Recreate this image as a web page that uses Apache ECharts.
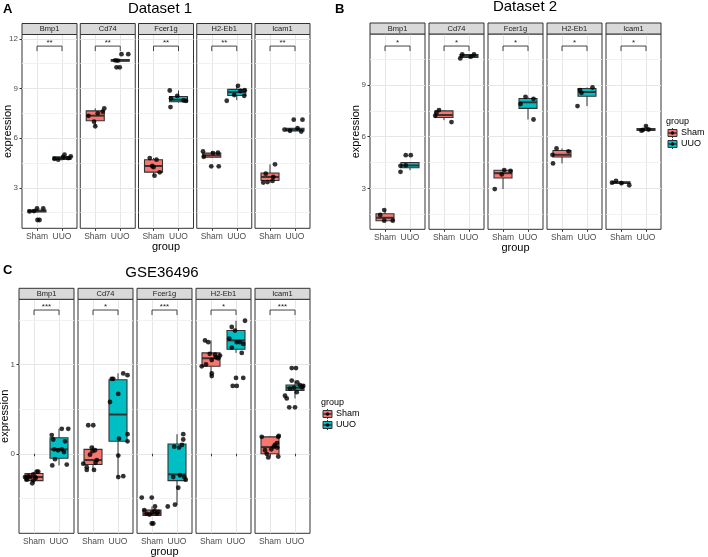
<!DOCTYPE html>
<html><head><meta charset="utf-8">
<script src="https://cdn.jsdelivr.net/npm/echarts@6/dist/echarts.min.js"></script>
<style>html,body{margin:0;padding:0;background:#fff}#c{width:708px;height:557px}</style>
</head><body><div id="c"></div>
<script>
const genes = ['Bmp1','Cd74','Fcer1g','H2-Eb1','Icam1'];
const groups = ['Sham','UUO'];

// ---------- Dataset 1 ----------
const d1Sham = [[1.58,1.60,1.76,1.76,1.06,1.06],[7.35,7.0,6.72,7.6,7.8,7.5],[4.8,4.32,3.74,4.7,3.94,4.25],[5.2,4.88,5.1,5.12,4.3,4.3],[3.32,3.86,3.66,4.42,3.42,3.35]];
const d1ShamJit = [[-0.3,-0.12,0.0,0.25,0.02,0.1],[-0.27,-0.05,0.0,0.3,0.36,0.1],[-0.15,-0.05,0.04,0.12,0.25,0.0],[-0.35,-0.32,0.05,0.25,-0.02,0.28],[-0.27,-0.17,0.13,0.2,0.1,-0.1]];
const d1ShamBox = [[1.52,1.55,1.6,1.66,1.76],[6.72,7.05,7.36,7.65,7.8],[3.74,3.95,4.32,4.7,4.8],[4.8,4.85,4.96,5.1,5.22],[3.32,3.45,3.66,3.9,4.42]];
const d1Uuo = [[4.75,4.7,4.85,5.0,4.8,4.9],[10.7,10.68,11.07,11.07,10.28,10.28],[8.88,8.4,7.88,8.55,8.28,8.25],[8.26,9.16,8.56,8.9,8.85,8.6],[6.52,7.12,7.12,6.6,6.4,6.45]];
const d1UuoJit = [[-0.3,-0.15,0.05,0.1,0.25,0.35],[-0.2,-0.1,0.05,0.32,-0.15,-0.02],[-0.35,-0.3,-0.32,-0.05,0.2,0.3],[-0.4,0.05,0.3,0.32,0.15,-0.1],[-0.42,-0.05,0.3,0.1,0.25,-0.2]];
const d1UuoBox = [[4.65,4.72,4.8,4.88,5.0],[10.62,10.65,10.7,10.75,10.78],[8.15,8.2,8.32,8.52,8.88],[8.3,8.58,8.78,8.95,9.16],[6.4,6.44,6.52,6.6,6.62]];
const d1BracketY = [11.56,11.56,11.56,11.56,11.56];
const d1Sig = ['**','**','**','**','**'];
const d1YTicks = [3,6,9,12];
const d1YMinor = [1.5,4.5,7.5,10.5];

// ---------- Dataset 2 ----------
const d2Sham = [[1.45,1.74,1.12,1.12],[7.22,7.55,7.4,6.85],[2.96,3.81,4.06,4.02],[4.95,4.45,5.32,5.15],[3.44,3.33,3.3,3.18]];
const d2ShamJit = [[-0.19,-0.03,-0.03,0.31],[-0.35,-0.2,-0.3,0.3],[-0.33,-0.05,0.05,0.3],[-0.38,-0.36,-0.22,0.26],[-0.2,-0.36,0.02,0.33]];
const d2ShamBox = [[1.12,1.12,1.29,1.52,1.74],[6.96,7.12,7.26,7.5,7.55],[2.96,3.6,3.88,4.05,4.08],[4.45,4.82,4.95,5.2,5.32],[3.18,3.28,3.32,3.38,3.44]];
const d2Uuo = [[3.96,4.31,4.33,4.93,4.93],[10.55,10.78,10.65,10.78],[7.9,8.32,8.2,7.0],[7.78,8.71,8.55,8.86],[6.35,6.62,6.4,6.42]];
const d2UuoJit = [[-0.38,-0.38,-0.17,-0.17,0.03],[-0.35,-0.27,0.07,0.2],[-0.3,-0.1,0.22,0.22],[-0.38,-0.28,-0.22,0.22],[-0.18,0.0,-0.12,0.1]];
const d2UuoBox = [[4.05,4.2,4.33,4.5,4.5],[10.55,10.6,10.7,10.78,10.8],[7.0,7.65,8.0,8.22,8.32],[7.78,8.35,8.6,8.8,8.86],[6.33,6.36,6.4,6.47,6.62]];
const d2BracketY = [11.27,11.27,11.27,11.27,11.27];
const d2Sig = ['*','*','*','*','*'];
const d2YTicks = [3,6,9];
const d2YMinor = [1.5,4.5,7.5,10.5];

// ---------- GSE36496 ----------
const d3Sham = [
  [-0.26,-0.27,-0.25,-0.26,-0.23,-0.26,-0.2,-0.2,-0.33,-0.3,-0.29,-0.27],
  [-0.11,-0.15,0.32,0.32,-0.01,0.07,0.04,-0.18,-0.07,-0.18,-0.1,0.03],
  [-0.49,-0.49,-0.63,-0.59,-0.78,-0.78,-0.67,-0.67,-0.65,-0.66,-0.68,-0.64],
  [0.98,1.27,1.25,0.9,0.87,1.11,1.07,1.1,1.05,1.12,1.0,1.08],
  [0.19,-0.04,-0.03,0.04,0.07,0.19,0.0,0.1,0.08,0.2,0.12,0.05]];
const d3ShamJit = [
  [-0.36,-0.29,-0.23,-0.16,-0.03,0.04,0.11,0.17,-0.07,-0.03,-0.29,0.07],
  [-0.39,-0.25,-0.19,0.01,-0.12,-0.05,0.08,0.04,0.15,-0.25,0.1,-0.02],
  [-0.41,-0.01,-0.31,0.12,-0.01,0.05,-0.21,0.19,0.25,0.0,-0.1,0.1],
  [-0.37,-0.24,-0.11,0.03,0.03,0.16,0.29,0.36,0.03,-0.05,-0.2,0.2],
  [-0.33,-0.07,0.33,-0.2,0.29,0.33,-0.13,0.2,0.15,0.35,0.28,0.05]];
const d3ShamBox = [[-0.33,-0.3,-0.26,-0.22,-0.2],[-0.18,-0.12,-0.07,0.05,0.09],[-0.69,-0.69,-0.67,-0.63,-0.59],[0.87,0.98,1.07,1.13,1.27],[-0.04,0.0,0.075,0.19,0.2]];
const d3Uuo = [
  [0.21,0.16,-0.13,-0.06,0.05,0.28,0.14,-0.12,0.28,0.02,0.05,0.04],
  [0.58,0.84,0.84,0.67,-0.02,-0.26,-0.25,0.9,0.88,0.22,0.14,0.17],
  [-0.59,-0.57,-0.38,-0.26,0.08,0.07,0.16,0.22,-0.26,-0.29,-0.24,0.1],
  [1.42,1.38,1.49,1.29,1.19,1.25,1.25,1.23,1.13,0.85,0.85,0.76,0.76],
  [0.96,0.96,0.82,0.65,0.62,0.52,0.52,0.8,0.77,0.745,0.69,0.74,0.76,0.73]];
const d3UuoJit = [
  [-0.29,-0.23,-0.27,-0.16,0.11,0.11,0.24,0.31,0.37,0.2,-0.19,-0.04],
  [-0.32,-0.25,-0.19,0.01,0.01,0.01,0.21,0.21,0.38,0.38,0.38,0.04],
  [-0.37,-0.08,0.05,-0.15,-0.11,0.08,0.25,0.25,0.29,0.35,0.12,0.2],
  [-0.17,-0.04,0.36,-0.27,-0.17,0.03,0.16,0.29,0.23,0.0,0.29,-0.13,0.03],
  [-0.13,0.04,-0.13,-0.4,-0.33,-0.23,0.0,0.09,0.2,0.27,0.07,-0.04,0.33,-0.2]];
const d3UuoBox = [[-0.13,-0.05,0.05,0.18,0.28],[-0.26,0.14,0.44,0.83,0.9],[-0.57,-0.3,-0.23,0.11,0.22],[1.13,1.17,1.27,1.38,1.49],[0.62,0.71,0.74,0.77,0.82]];
const d3BracketY = [1.61,1.61,1.61,1.61,1.61];
const d3Sig = ['***','*','***','*','***'];
const d3YTicks = [0,1];
const d3YMinor = [-0.5,0.5,1.5];

// ---------- rendering ----------
const FONT = '"Liberation Sans", Arial, sans-serif';
const COL = {Sham:'#F8766D', UUO:'#00BFC4'};
const DARK = '#333333';

const panels = [
  {title:'Dataset 1', letter:'A', lx:3, ly:3, tx:160, ty:9, left0:22, step:58.25, w:55, top:34.5, h:193.8, ymin:0.56, ymax:12.26,
   sham:d1Sham, shamJit:d1ShamJit, shamBox:d1ShamBox, uuo:d1Uuo, uuoJit:d1UuoJit, uuoBox:d1UuoBox, bracket:d1BracketY, sig:d1Sig, ticks:d1YTicks, minor:d1YMinor, legend:null},
  {title:'Dataset 2', letter:'B', lx:335, ly:3, tx:525, ty:7, left0:370, step:59, w:55, top:34, h:195.3, ymin:0.62, ymax:11.97,
   sham:d2Sham, shamJit:d2ShamJit, shamBox:d2ShamBox, uuo:d2Uuo, uuoJit:d2UuoJit, uuoBox:d2UuoBox, bracket:d2BracketY, sig:d2Sig, ticks:d2YTicks, minor:d2YMinor, legend:{x:666, y:122}},
  {title:'GSE36496', letter:'C', lx:3, ly:264, tx:162, ty:273, left0:19, step:59, w:55, top:299.3, h:234, ymin:-0.89, ymax:1.73,
   sham:d3Sham, shamJit:d3ShamJit, shamBox:d3ShamBox, uuo:d3Uuo, uuoJit:d3UuoJit, uuoBox:d3UuoBox, bracket:d3BracketY, sig:d3Sig, ticks:d3YTicks, minor:d3YMinor, legend:{x:321, y:403}}
];

const grid = [], xAxis = [], yAxis = [], series = [], graphic = [];

function renderBox(params, api) {
  const x = api.value(0);
  const hw = 0.36;
  const pMin = api.coord([x, api.value(1)]);
  const pQ1 = api.coord([x, api.value(2)]);
  const pMd = api.coord([x, api.value(3)]);
  const pQ3 = api.coord([x, api.value(4)]);
  const pMx = api.coord([x, api.value(5)]);
  const l = api.coord([x - hw, api.value(3)])[0];
  const r = api.coord([x + hw, api.value(3)])[0];
  const fill = api.visual('color');
  return {type:'group', children:[
    {type:'line', shape:{x1:pMx[0], y1:pMx[1], x2:pQ3[0], y2:pQ3[1]}, style:{stroke:DARK, lineWidth:1}},
    {type:'line', shape:{x1:pMin[0], y1:pMin[1], x2:pQ1[0], y2:pQ1[1]}, style:{stroke:DARK, lineWidth:1}},
    {type:'rect', shape:{x:l, y:pQ3[1], width:r - l, height:Math.max(pQ1[1] - pQ3[1], 1)}, style:{fill:fill, stroke:DARK, lineWidth:1.1}},
    {type:'line', shape:{x1:l, y1:pMd[1], x2:r, y2:pMd[1]}, style:{stroke:DARK, lineWidth:2}}
  ]};
}

function makeBracketRenderer(label) {
  return function (params, api) {
    const y = api.value(1);
    const a = api.coord([1, y]);
    const b = api.coord([2, y]);
    const m = api.coord([1.5, y]);
    return {type:'group', children:[
      {type:'polyline', shape:{points:[[a[0], a[1] + 5], a, b, [b[0], b[1] + 5]]}, style:{stroke:'#444', lineWidth:1, fill:null}},
      {type:'text', style:{text:label, x:m[0], y:m[1] + 1, align:'center', verticalAlign:'bottom', fontSize:8, fontFamily:FONT, fill:'#222'}}
    ]};
  };
}

panels.forEach((p, pi) => {
  genes.forEach((g, gi) => {
    const idx = grid.length;
    const left = p.left0 + gi * p.step;
    grid.push({left:left, top:p.top, width:p.w, height:p.h, show:true, borderColor:DARK, borderWidth:1, backgroundColor:'#fff', containLabel:false});
    xAxis.push({type:'value', gridIndex:idx, min:0.4, max:2.6,
      axisLine:{show:false},
      axisTick:{show:true, length:2.5, customValues:[1,2], lineStyle:{color:DARK, width:1}},
      axisLabel:{show:true, customValues:[1,2], formatter:v => groups[Math.round(v) - 1], color:'#4D4D4D', fontSize:8.5, fontFamily:FONT, margin:3.5},
      splitLine:{show:true, lineStyle:{color:'#E6E6E6', width:1}}
    });
    yAxis.push({type:'value', gridIndex:idx, min:p.ymin, max:p.ymax,
      axisLine:{show:false},
      axisTick:{show:gi === 0, length:2.5, customValues:p.ticks, lineStyle:{color:DARK, width:1}},
      axisLabel:{show:gi === 0, customValues:p.ticks, color:'#4D4D4D', fontSize:8, fontFamily:FONT, margin:4},
      splitLine:{show:true, lineStyle:{color:'#E6E6E6', width:1}}
    });
    // minor grid + boxes
    series.push({type:'custom', xAxisIndex:idx, yAxisIndex:idx, silent:true, z:2,
      renderItem:renderBox, itemStyle:{color:COL.Sham}, encode:{x:0, y:[1,2,3,4,5]},
      data:[[1].concat(p.shamBox[gi])],
      markLine:{silent:true, symbol:'none', label:{show:false}, animation:false, z:1,
        lineStyle:{color:'#EFEFEF', width:0.8, type:'solid'},
        data:p.minor.map(v => ({yAxis:v}))}
    });
    series.push({type:'custom', xAxisIndex:idx, yAxisIndex:idx, silent:true, z:2,
      renderItem:renderBox, itemStyle:{color:COL.UUO}, encode:{x:0, y:[1,2,3,4,5]},
      data:[[2].concat(p.uuoBox[gi])]
    });
    series.push({type:'scatter', xAxisIndex:idx, yAxisIndex:idx, silent:true, z:3, symbolSize:4.8,
      itemStyle:{color:'#000'},
      data:p.sham[gi].map((v, i) => [1 + p.shamJit[gi][i], v]).concat(p.uuo[gi].map((v, i) => [2 + p.uuoJit[gi][i], v]))
    });
    series.push({type:'custom', xAxisIndex:idx, yAxisIndex:idx, silent:true, z:3,
      renderItem:makeBracketRenderer(p.sig[gi]), encode:{x:0, y:1},
      data:[[1.5, p.bracket[gi]]]
    });
    // strip
    graphic.push({type:'rect', shape:{x:left, y:p.top - 11, width:p.w, height:11}, style:{fill:'#D9D9D9', stroke:DARK, lineWidth:1}, z:10});
    graphic.push({type:'text', x:left + p.w / 2, y:p.top - 5.5, style:{text:g, align:'center', verticalAlign:'middle', fontSize:7.5, fontFamily:FONT, fill:'#1A1A1A'}, z:11});
  });
  const pLeft = p.left0, pRight = p.left0 + 4 * p.step + p.w;
  graphic.push({type:'text', x:p.lx, y:p.ly, style:{text:p.letter, fontSize:13, fontWeight:'bold', fontFamily:FONT, fill:'#000'}, z:11});
  graphic.push({type:'text', x:p.tx, y:p.ty, style:{text:p.title, align:'center', verticalAlign:'middle', fontSize:15, fontFamily:FONT, fill:'#000'}, z:11});
  graphic.push({type:'text', x:(pLeft + pRight) / 2, y:p.top + p.h + 18.5, style:{text:'group', align:'center', verticalAlign:'middle', fontSize:11, fontFamily:FONT, fill:'#000'}, z:11});
  graphic.push({type:'text', x:pLeft - 14, y:p.top + p.h / 2, rotation:Math.PI / 2, style:{text:'expression', align:'center', verticalAlign:'middle', fontSize:11, fontFamily:FONT, fill:'#000'}, z:11});
  if (p.legend) {
    const L = p.legend;
    graphic.push({type:'text', x:L.x, y:L.y, style:{text:'group', verticalAlign:'middle', fontSize:9, fontFamily:FONT, fill:'#000'}, z:11});
    groups.forEach((gname, k) => {
      const cx = L.x + 6.5, cy = L.y + 11 + k * 11;
      graphic.push({type:'line', shape:{x1:cx, y1:cy - 5, x2:cx, y2:cy + 5}, style:{stroke:DARK, lineWidth:1}, z:11});
      graphic.push({type:'rect', shape:{x:cx - 4.5, y:cy - 3.5, width:9, height:7}, style:{fill:COL[gname], stroke:DARK, lineWidth:1}, z:12});
      graphic.push({type:'line', shape:{x1:cx - 4.5, y1:cy, x2:cx + 4.5, y2:cy}, style:{stroke:DARK, lineWidth:1.5}, z:13});
      graphic.push({type:'circle', shape:{cx:cx, cy:cy, r:1.8}, style:{fill:'#000'}, z:14});
      graphic.push({type:'text', x:L.x + 15, y:cy, style:{text:gname, verticalAlign:'middle', fontSize:9, fontFamily:FONT, fill:'#000'}, z:11});
    });
  }
});

const chart = echarts.init(document.getElementById('c'), null, {renderer:'canvas'});
chart.setOption({animation:false, backgroundColor:'#fff', grid, xAxis, yAxis, series, graphic});
</script>
</body></html>
